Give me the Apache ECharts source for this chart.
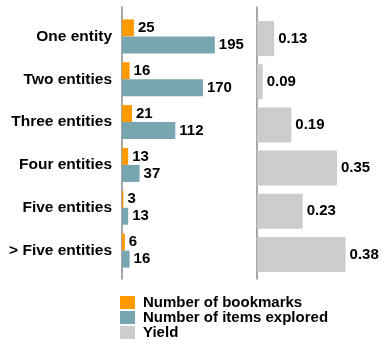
<!DOCTYPE html>
<html>
<head>
<meta charset="utf-8">
<script src="https://cdn.jsdelivr.net/npm/echarts@6/dist/echarts.min.js"></script>
<style>
  html, body { margin: 0; padding: 0; background: #fff; }
  #chart { width: 385px; height: 347px; }
</style>
</head>
<body>
<div id="chart"></div>
<script>
// Entities per query: bookmarks vs. items explored, and the resulting yield
const categories = ['One entity', 'Two entities', 'Three entities', 'Four entities', 'Five entities', '> Five entities'];
const bookmarks = [25, 16, 21, 13, 3, 6];
const itemsExplored = [195, 170, 112, 37, 13, 16];
const yieldValues = [0.13, 0.09, 0.19, 0.35, 0.23, 0.38];
const seriesNames = ['Number of bookmarks', 'Number of items explored', 'Yield'];

const FONT = '"Liberation Sans", Arial, Helvetica, sans-serif';
const ORANGE = '#FF9900';
const TEAL = '#78A6B0';
const GREY = '#CCCCCC';
const AXIS = '#8a8a8a';

const valueLabel = (fmt) => ({
  show: true,
  position: 'right',
  distance: 4,
  color: '#000',
  fontFamily: FONT,
  fontWeight: 'bold',
  fontSize: 15,
  formatter: fmt
});

const chart = echarts.init(document.getElementById('chart'), null, { renderer: 'canvas' });

chart.setOption({
  animation: false,
  backgroundColor: '#fff',
  textStyle: { fontFamily: FONT },
  legend: {
    data: seriesNames,
    orient: 'vertical',
    left: 120,
    top: 295,
    height: 80,
    padding: 0,
    icon: 'rect',
    itemWidth: 15,
    itemHeight: 13,
    itemGap: 0,
    selectedMode: false,
    textStyle: {
      fontFamily: FONT,
      fontWeight: 'bold',
      fontSize: 15,
      color: '#000',
      lineHeight: 13,
      padding: [0, 0, 0, 3]
    }
  },
  grid: [
    // left bar panel
    { left: 122, top: 15, height: 257, width: 119 },
    // right bar panel (yield)
    { left: 257, top: 17, height: 259, width: 100 },
    // full-height separator lines
    { left: 122, top: 7, height: 272, width: 10 },
    { left: 257, top: 7, height: 272, width: 10 }
  ],
  xAxis: [
    { gridIndex: 0, type: 'value', min: 0, max: 250, show: false },
    { gridIndex: 1, type: 'value', min: 0.07, max: 0.42, show: false },
    { gridIndex: 2, type: 'value', min: 0, max: 1, show: false },
    { gridIndex: 3, type: 'value', min: 0, max: 1, show: false }
  ],
  yAxis: [
    {
      gridIndex: 0,
      type: 'category',
      data: categories,
      inverse: true,
      axisLine: { show: false },
      axisTick: { show: false },
      axisLabel: {
        margin: 10,
        color: '#000',
        fontFamily: FONT,
        fontWeight: 'bold',
        fontSize: 15.5
      }
    },
    {
      gridIndex: 1,
      type: 'category',
      data: categories,
      inverse: true,
      axisLine: { show: false },
      axisTick: { show: false },
      axisLabel: { show: false }
    },
    {
      gridIndex: 2, type: 'value', min: 0, max: 1,
      axisLine: { show: true, lineStyle: { color: AXIS, width: 1.5 } },
      axisTick: { show: false }, axisLabel: { show: false }, splitLine: { show: false }
    },
    {
      gridIndex: 3, type: 'value', min: 0, max: 1,
      axisLine: { show: true, lineStyle: { color: AXIS, width: 1.5 } },
      axisTick: { show: false }, axisLabel: { show: false }, splitLine: { show: false }
    }
  ],
  series: [
    {
      name: seriesNames[0],
      type: 'bar',
      xAxisIndex: 0,
      yAxisIndex: 0,
      data: bookmarks,
      barWidth: 17,
      barGap: '0%',
      itemStyle: { color: ORANGE },
      label: valueLabel('{c}')
    },
    {
      name: seriesNames[1],
      type: 'bar',
      xAxisIndex: 0,
      yAxisIndex: 0,
      data: itemsExplored,
      barWidth: 17,
      barGap: '0%',
      itemStyle: { color: TEAL },
      label: valueLabel('{c}')
    },
    {
      name: seriesNames[2],
      type: 'bar',
      xAxisIndex: 1,
      yAxisIndex: 1,
      data: yieldValues,
      barWidth: 35,
      itemStyle: { color: GREY },
      label: valueLabel((p) => p.value.toFixed(2))
    }
  ]
});
</script>
</body>
</html>
